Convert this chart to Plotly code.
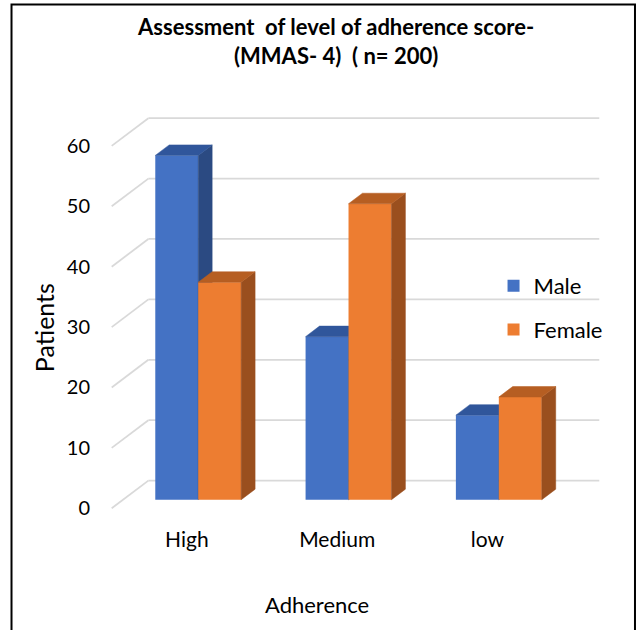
import plotly.graph_objects as go

# ---- data -------------------------------------------------------------
categories = ["High", "Medium", "low"]
male = [57, 27, 14]
female = [36, 49, 17]
y_ticks = [0, 10, 20, 30, 40, 50, 60]

# ---- oblique 3-D projection (in axis units) ---------------------------
DX = 0.244      # horizontal shift of the back wall, in category units
DY = 4.585      # vertical shift of the back wall, in value units
BAR_W = 1 / 3.5 # column width (gap width 150 %)
D0, D1 = 0.31, 0.69  # front / back depth of the columns

FONT = "Lato"

series = [
    dict(name="Male", values=male, offset=-BAR_W,
         front="#4472C4", top="#30569B", side="#2B4A82",
         xaxis="x", yaxis="y"),
    dict(name="Female", values=female, offset=0.0,
         front="#ED7D31", top="#B65E22", side="#9A4F1E",
         xaxis="x2", yaxis="y2"),
]

fig = go.Figure()

for s in series:
    xc, base = [], []
    top_x, top_y, side_x, side_y = [], [], [], []
    for i, v in enumerate(s["values"]):
        x0 = i + s["offset"]
        x1 = x0 + BAR_W
        xc.append(x0 + BAR_W / 2 + D0 * DX)
        base.append(D0 * DY)
        # top face
        top_x += [x0 + D0 * DX, x1 + D0 * DX, x1 + D1 * DX, x0 + D1 * DX, x0 + D0 * DX, None]
        top_y += [v + D0 * DY, v + D0 * DY, v + D1 * DY, v + D1 * DY, v + D0 * DY, None]
        # right side face
        side_x += [x1 + D0 * DX, x1 + D1 * DX, x1 + D1 * DX, x1 + D0 * DX, x1 + D0 * DX, None]
        side_y += [D0 * DY, D1 * DY, v + D1 * DY, v + D0 * DY, D0 * DY, None]

    fig.add_trace(go.Bar(
        x=xc, y=s["values"], base=base, width=BAR_W,
        marker=dict(color=s["front"], line=dict(width=0)),
        name=s["name"], legendgroup=s["name"],
        xaxis=s["xaxis"], yaxis=s["yaxis"],
        hovertemplate=s["name"] + ": %{y}<extra></extra>",
    ))
    for fx, fy, col in ((side_x, side_y, s["side"]), (top_x, top_y, s["top"])):
        fig.add_trace(go.Scatter(
            x=fx, y=fy, mode="lines", fill="toself", fillcolor=col,
            line=dict(color=col, width=0.5),
            showlegend=False, hoverinfo="skip", legendgroup=s["name"],
            xaxis=s["xaxis"], yaxis=s["yaxis"],
        ))

# ---- back wall and side wall gridlines --------------------------------
shapes = []
for v in y_ticks:
    grid = dict(color="#D9D9D9", width=1.75)
    shapes.append(dict(type="line", xref="x", yref="y", layer="below",
                       x0=-0.5, y0=v, x1=-0.5 + DX, y1=v + DY, line=grid))
    shapes.append(dict(type="line", xref="x", yref="y", layer="below",
                       x0=-0.5 + DX, y0=v + DY, x1=2.5 + DX, y1=v + DY, line=grid))

# outer frame
shapes.append(dict(type="rect", xref="paper", yref="paper", layer="below",
                   x0=-0.1673, x1=1.0528, y0=-0.32, y1=1.2573,
                   line=dict(color="black", width=2)))

X_RANGE = [-0.5978, 2.802]
Y_RANGE = [-1.937, 65.94]

axis_common = dict(showgrid=False, zeroline=False, showline=False, ticks="",
                   automargin=False, fixedrange=True)

fig.update_layout(
    width=639, height=630,
    margin=dict(l=97, r=31, t=110, b=110),
    paper_bgcolor="white", plot_bgcolor="white",
    font=dict(family=FONT, color="black"),
    barmode="overlay",
    title=dict(
        text="<b>Assessment\u00a0 of level of adherence score-<br>(MMAS- 4)\u00a0 ( n= 200)</b>",
        x=0.526, xanchor="center", xref="container",
        y=0.944, yanchor="top", yref="container",
        font=dict(family=FONT, size=22, color="black"),
    ),
    xaxis=dict(range=X_RANGE, tickvals=[0, 1, 2], ticktext=categories,
               tickfont=dict(size=21), ticklabelstandoff=5, **axis_common),
    yaxis=dict(range=Y_RANGE, tickvals=y_ticks, tickfont=dict(size=20),
               ticklabelstandoff=6, **axis_common),
    xaxis2=dict(range=X_RANGE, overlaying="x", matches="x", visible=False,
                automargin=False, fixedrange=True),
    yaxis2=dict(range=Y_RANGE, overlaying="y", matches="y", visible=False,
                automargin=False, fixedrange=True),
    legend=dict(x=0.776, y=0.6219, xanchor="left", yanchor="top",
                font=dict(size=22), tracegroupgap=12, traceorder="grouped",
                bgcolor="rgba(0,0,0,0)"),
    shapes=shapes,
    annotations=[
        dict(text="Patients", xref="paper", yref="paper", x=-0.1037, y=0.468,
             xanchor="center", yanchor="middle", textangle=-90, showarrow=False,
             font=dict(size=25)),
        dict(text="Adherence", xref="paper", yref="paper", x=0.4305, y=-0.2073,
             xanchor="center", yanchor="middle", showarrow=False,
             font=dict(size=22)),
    ],
)

fig.write_html("out.html")
